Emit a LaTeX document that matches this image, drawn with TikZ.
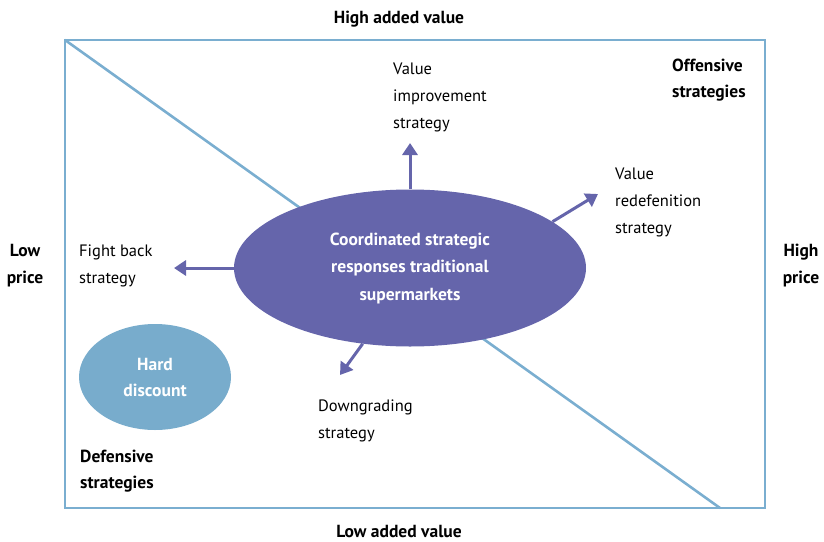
\documentclass[tikz,border=0pt]{standalone}
\usepackage{fontspec}
\setmainfont{PT Sans}
\usetikzlibrary{shapes.geometric,arrows.meta}
\definecolor{frameblue}{RGB}{122,174,208}
\definecolor{corepurple}{RGB}{101,101,171}
\definecolor{discountblue}{RGB}{120,172,204}
\tikzset{
  lbl/.style={font=\fontsize{16.5}{27}\selectfont, align=left, anchor=west, inner sep=0pt},
  axislbl/.style={font=\fontsize{17.5}{27}\selectfont\bfseries, align=center, inner sep=0pt},
  grouplbl/.style={font=\fontsize{17.5}{26}\selectfont\bfseries, align=left, anchor=west, inner sep=0pt},
  frameline/.style={draw=frameblue, line width=2.6pt},
  movearrow/.style={draw=corepurple, line width=3pt, -{Triangle[length=12pt,width=15pt]}},
}
\begin{document}
\begin{tikzpicture}[x=1pt,y=-1pt]
\useasboundingbox (0,0) rectangle (824,541);

% quadrant frame and dividing diagonal
\coordinate (tl) at (65,40);
\coordinate (br) at (765,508);
\coordinate (diagend) at (720,508);
\draw[frameline] (tl) rectangle (br);
\draw[frameline] (tl) -- (diagend);

% central ellipse
\node[ellipse, fill=corepurple, minimum width=352pt, minimum height=157pt, inner sep=0pt,
      font=\fontsize{17.5}{27.5}\selectfont\bfseries, text=white, align=center]
  (core) at (410,268) {Coordinated strategic\\responses traditional\\supermarkets};

% hard discount ellipse
\node[ellipse, fill=discountblue, minimum width=152pt, minimum height=106pt, inner sep=0pt,
      font=\fontsize{17.5}{26}\selectfont\bfseries, text=white, align=center]
  (hd) at (155,377) {Hard\\discount};

% axis labels
\node[axislbl] (hav) at (399,19) {High added value};
\node[axislbl] (lav) at (399,531) {Low added value};
\node[axislbl] (lp) at (25,265.5) {Low\\price};
\node[axislbl] (hp) at (801,265.5) {High\\price};

% strategy group labels
\node[grouplbl] (off) at (672,80.5) {Offensive\\strategies};
\node[grouplbl] (def) at (80,471.5) {Defensive\\strategies};

% strategy labels
\node[lbl] (vi) at (393,97) {Value\\improvement\\strategy};
\node[lbl] (vr) at (615,202) {Value\\redefenition\\strategy};
\node[lbl] (fb) at (79,265.5) {Fight back\\strategy};
\node[lbl] (dg) at (318,420.5) {Downgrading\\strategy};

% arrow tips
\coordinate (viTip) at (410,143);
\coordinate (vrTip) at (598,194);
\coordinate (fbTip) at (174,268);
\coordinate (dgTip) at (340,375);

\draw[movearrow] (core.north) -- (viTip);
\draw[movearrow] (core.18) -- (vrTip);
\draw[movearrow] (core.west) -- (fbTip);
\draw[movearrow] (core.238) -- (dgTip);
\end{tikzpicture}
\end{document}
